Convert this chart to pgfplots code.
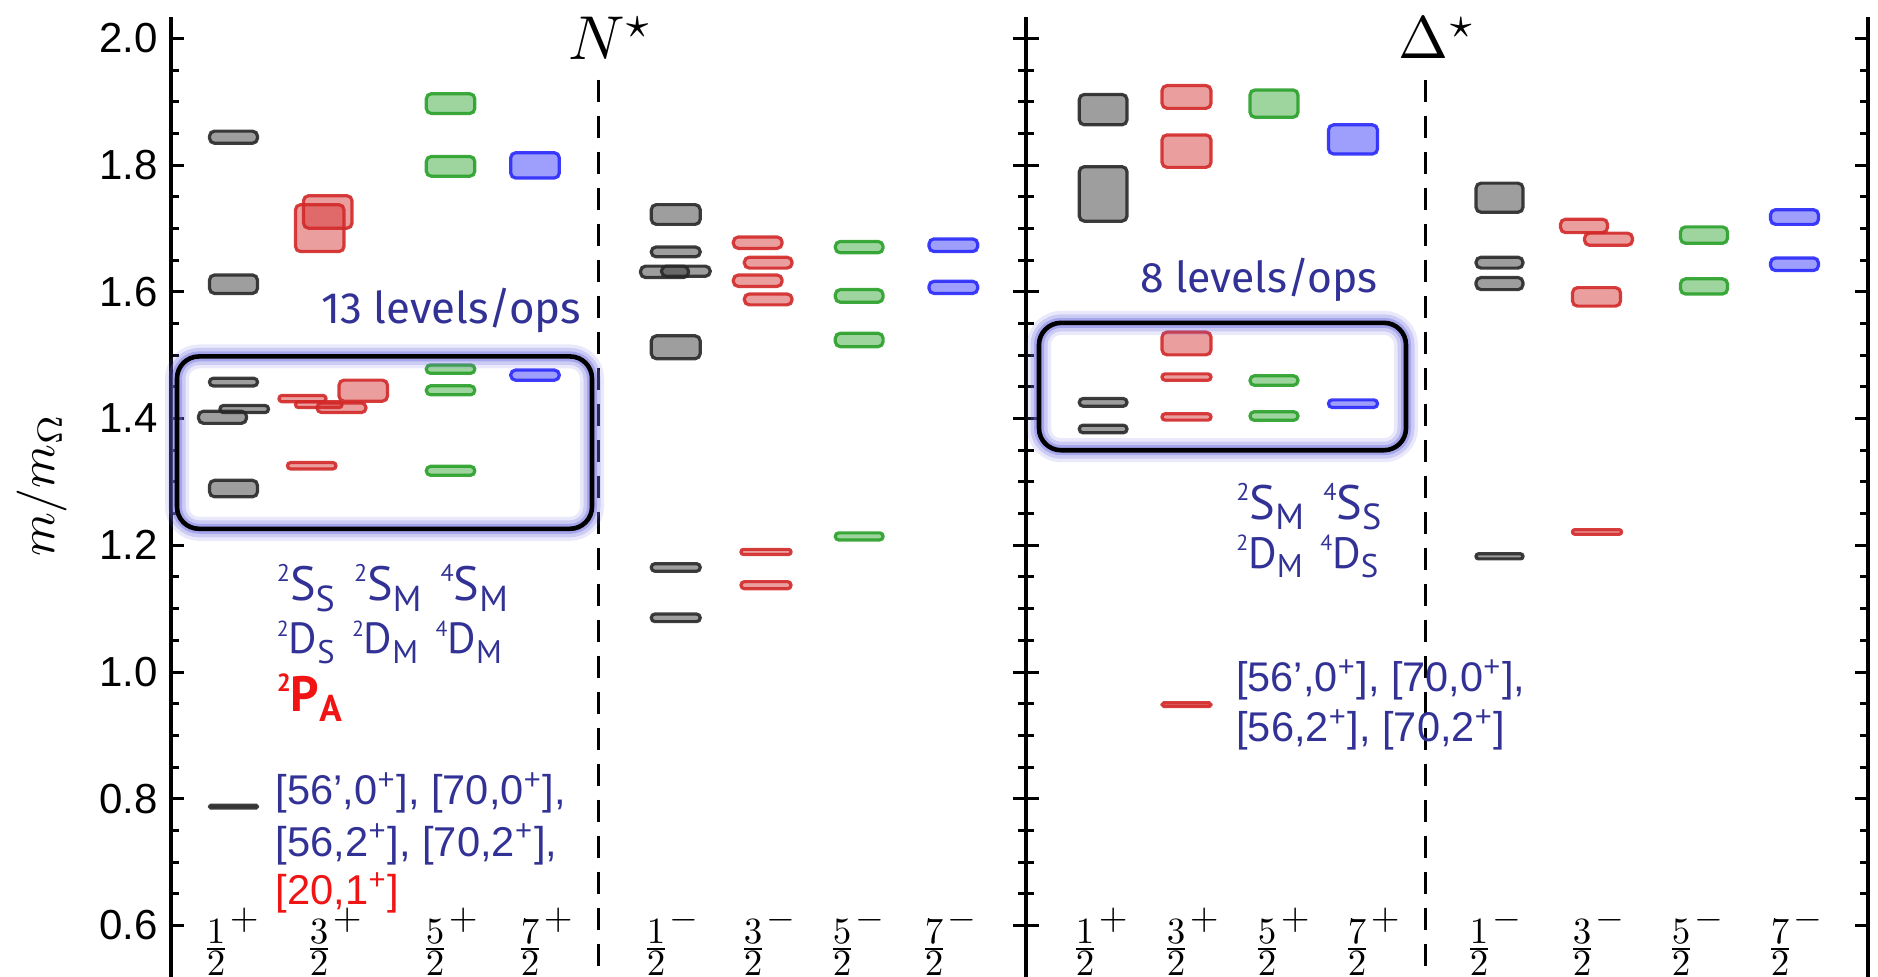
\documentclass[border=0pt]{standalone}
\usepackage[no-math]{fontspec}
\usepackage{graphicx}
\usepackage{pgfplots}
\pgfplotsset{compat=1.18}
\newfontfamily\arial{Liberation Sans}
\newfontfamily\specf{PT Sans}
\newfontfamily\lvlf{Fira Sans}
\definecolor{txtblue}{RGB}{50,50,150}
\definecolor{txtred}{RGB}{240,20,20}
\definecolor{gcol}{RGB}{40,40,40}
\definecolor{rcol}{RGB}{210,40,40}
\definecolor{grcol}{RGB}{40,160,40}
\definecolor{bcol}{RGB}{40,40,250}
\definecolor{glowc}{RGB}{110,110,225}

\pgfplotsset{
 bxs/.style={draw=#1, fill=#1, fill opacity=0.45, draw opacity=0.9, line width=1.6pt, mark=none},
 panel/.style={scale only axis, height=480pt, ymin=0.519, ymax=2.034,
   separate axis lines, x axis line style={draw=none}, xtick=\empty,
   y axis line style={line width=1.6pt},
   ytick={0.6,0.8,1.0,1.2,1.4,1.6,1.8,2.0}, minor y tick num=3,
   major tick length=6.5pt, minor tick length=4pt,
   tick style={line width=1.5pt, black}, tick align=inside,
   clip=false, anchor=south west},
}
% box: x-left, x-right, centre, half-height, colour
\newcommand\bx[5]{%
 \pgfmathsetmacro\ylo{#3-#4}%
 \pgfmathsetmacro\yhi{#3+#4}%
 \pgfmathsetmacro\rad{min(2.5,#4*300)}%
 \edef\temp{\noexpand\addplot[bxs=#5, rounded corners=\rad pt] coordinates {(#1,\ylo) (#2,\ylo) (#2,\yhi) (#1,\yhi)} -- cycle;}%
 \temp}
\newcommand\hl[4]{%
 \draw[glowc, opacity=0.15, line width=12pt, rounded corners=11pt] (axis cs:#1,#2) rectangle (axis cs:#3,#4);
 \draw[glowc, opacity=0.25, line width=8.5pt, rounded corners=11pt] (axis cs:#1,#2) rectangle (axis cs:#3,#4);
 \draw[glowc, opacity=0.4, line width=5pt, rounded corners=11pt] (axis cs:#1,#2) rectangle (axis cs:#3,#4);
 \draw[black, line width=2.3pt, rounded corners=11pt] (axis cs:#1,#2) rectangle (axis cs:#3,#4);}
\newcommand\fl[3]{\node at (axis cs:#1,0.575) {\scalebox{1.85}{$\frac{\textstyle #2}{\textstyle 2}^{\makebox[0pt][l]{$\textstyle #3$}}$}};}
\newcommand\spx[3]{\raisebox{9.4pt}{\fontsize{12}{12}\selectfont #1}#2\raisebox{-5.2pt}{\fontsize{18}{18}\selectfont #3}}
\newcommand\supp[1]{\textsuperscript{#1}}

\begin{document}
\begin{tikzpicture}
\path[use as bounding box] (0pt,0pt) rectangle (939pt,-488.5pt);
\node[rotate=90] at (21pt,-242.5pt) {\scalebox{2.5}{$m/m_{\Omega}$}};

% ---------------- N* panel
\begin{axis}[panel, at={(85.5pt,-488.4pt)}, width=427.5pt, xmin=171, xmax=1026,
  yticklabel style={font=\arial\fontsize{21}{23}\selectfont, xshift=-3pt},
  /pgf/number format/assume math mode=true,
  /pgf/number format/.cd, fixed, fixed zerofill, precision=1]
\addplot[black, line width=1.5pt, dash pattern=on 11pt off 7pt] coordinates {(598,1.935) (598,0.519)};
% 1/2+
\bx{209.5}{257.5}{1.844}{0.0096}{gcol}
\bx{209.5}{257.5}{1.612}{0.0146}{gcol}
\bx{209.5}{257.5}{1.4575}{0.006}{gcol}
\bx{198.5}{246.5}{1.402}{0.0096}{gcol}
\bx{220}{268.5}{1.415}{0.0056}{gcol}
\bx{209.5}{257.5}{1.2895}{0.013}{gcol}
\bx{209.5}{257.5}{0.7875}{0.0021}{gcol}
% 3/2+
\bx{295.5}{344}{1.7005}{0.037}{rcol}
\bx{303.5}{352}{1.726}{0.0256}{rcol}
\bx{279}{326}{1.4315}{0.005}{rcol}
\bx{295.5}{342}{1.422}{0.0046}{rcol}
\bx{317}{366}{1.417}{0.0076}{rcol}
\bx{339}{387.5}{1.444}{0.0166}{rcol}
\bx{287.5}{336}{1.3255}{0.005}{rcol}
% 5/2+
\bx{426.3}{474.8}{1.897}{0.0156}{grcol}
\bx{426.3}{474.8}{1.798}{0.0156}{grcol}
\bx{426.3}{474.8}{1.478}{0.0066}{grcol}
\bx{426.3}{474.8}{1.4445}{0.0071}{grcol}
\bx{426.3}{474.8}{1.3175}{0.0071}{grcol}
% 7/2+
\bx{510.7}{559.3}{1.7995}{0.020}{bcol}
\bx{510.7}{559.3}{1.4685}{0.008}{bcol}
% 1/2-
\bx{651.3}{700.2}{1.722}{0.0156}{gcol}
\bx{651.3}{700.2}{1.663}{0.0076}{gcol}
\bx{640.5}{688.5}{1.6315}{0.009}{gcol}
\bx{661.5}{710.2}{1.6325}{0.008}{gcol}
\bx{651.3}{700.2}{1.5125}{0.018}{gcol}
\bx{651.3}{700.2}{1.165}{0.006}{gcol}
\bx{651.3}{700.2}{1.0855}{0.006}{gcol}
% 3/2-
\bx{733.3}{782.1}{1.6775}{0.009}{rcol}
\bx{744.3}{792.1}{1.646}{0.0086}{rcol}
\bx{733.3}{782.1}{1.6175}{0.009}{rcol}
\bx{744.3}{792.1}{1.588}{0.0086}{rcol}
\bx{741}{791}{1.1895}{0.004}{rcol}
\bx{741}{791}{1.137}{0.0056}{rcol}
% 5/2-
\bx{835.3}{883.1}{1.6705}{0.009}{grcol}
\bx{835.3}{883.1}{1.5935}{0.010}{grcol}
\bx{835.3}{883.1}{1.524}{0.0106}{grcol}
\bx{835.3}{883.1}{1.214}{0.0056}{grcol}
% 7/2-
\bx{929}{977.7}{1.6735}{0.010}{bcol}
\bx{929}{977.7}{1.607}{0.0096}{bcol}

\hl{177}{1.498}{592}{1.226}
\node at (axis cs:598,2.0) {\scalebox{3.1}{$N^{\makebox[0pt][l]{$\scriptstyle\star$}}$}};
\node[anchor=west, inner sep=0pt, text=txtblue] at (axis cs:321,1.570) {\resizebox{130pt}{!}{\lvlf 13 levels/ops}};
\node[anchor=west, inner sep=0pt, text=txtblue] at (axis cs:276.5,1.1325) {\resizebox{115.5pt}{!}{\specf\fontsize{24}{24}\selectfont\spx{2}{S}{S}\hspace{0.4em}\spx{2}{S}{M}\hspace{0.4em}\spx{4}{S}{M}}};
\node[anchor=west, inner sep=0pt, text=txtblue] at (axis cs:276.5,1.0466) {\resizebox{112.5pt}{!}{\specf\fontsize{24}{24}\selectfont\spx{2}{D}{S}\hspace{0.4em}\spx{2}{D}{M}\hspace{0.4em}\spx{4}{D}{M}}};
\node[anchor=west, inner sep=0pt, text=txtred] at (axis cs:276.5,0.959) {\resizebox{32.5pt}{!}{\specf\bfseries\fontsize{24}{24}\selectfont\spx{2}{P}{A}}};
\node[anchor=west, inner sep=0pt, text=txtblue] at (axis cs:275.5,0.809) {\resizebox{145pt}{!}{\arial [56’,0\supp{+}], [70,0\supp{+}],}};
\node[anchor=west, inner sep=0pt, text=txtblue] at (axis cs:275.5,0.728) {\resizebox{140.7pt}{!}{\arial [56,2\supp{+}], [70,2\supp{+}],}};
\node[anchor=west, inner sep=0pt, text=txtred] at (axis cs:275.5,0.652) {\resizebox{61.7pt}{!}{\arial [20,1\supp{+}]}};
\fl{217}{1}{+}\fl{320}{3}{+}\fl{436}{5}{+}\fl{531}{7}{+}
\fl{657}{1}{-}\fl{754}{3}{-}\fl{843}{5}{-}\fl{935}{7}{-}
\end{axis}

% ---------------- Delta* panel
\begin{axis}[panel, at={(513pt,-488.4pt)}, width=421pt, xmin=1026, xmax=1868,
  yticklabels={}]
\addplot[black, line width=1.5pt, dash pattern=on 11pt off 7pt] coordinates {(1425,1.935) (1425,0.519)};
% 1/2+
\bx{1079.3}{1127}{1.8875}{0.024}{gcol}
\bx{1079.3}{1127}{1.7545}{0.043}{gcol}
\bx{1079.3}{1127}{1.4255}{0.006}{gcol}
\bx{1079.3}{1127}{1.3835}{0.006}{gcol}
% 3/2+
\bx{1162}{1211}{1.9075}{0.018}{rcol}
\bx{1162}{1211}{1.822}{0.0256}{rcol}
\bx{1162}{1211}{1.5185}{0.018}{rcol}
\bx{1162}{1211}{1.4655}{0.005}{rcol}
\bx{1162}{1211}{1.4025}{0.005}{rcol}
\bx{1162}{1211}{0.9485}{0.003}{rcol}
% 5/2+
\bx{1250}{1298}{1.897}{0.0216}{grcol}
\bx{1250}{1298}{1.460}{0.0076}{grcol}
\bx{1250}{1298}{1.404}{0.0066}{grcol}
% 7/2+
\bx{1328.5}{1377.5}{1.8405}{0.023}{bcol}
\bx{1328.5}{1377.5}{1.4235}{0.006}{bcol}
% 1/2-
\bx{1476}{1523}{1.7485}{0.023}{gcol}
\bx{1476}{1523}{1.646}{0.0086}{gcol}
\bx{1476}{1523}{1.613}{0.0096}{gcol}
\bx{1476}{1523}{1.1825}{0.004}{gcol}
% 3/2-
\bx{1560.5}{1607.5}{1.704}{0.0106}{rcol}
\bx{1584.5}{1632.5}{1.683}{0.0096}{rcol}
\bx{1572.5}{1620.5}{1.592}{0.0146}{rcol}
\bx{1572.5}{1621.5}{1.221}{0.0036}{rcol}
% 5/2-
\bx{1680.5}{1727.5}{1.6895}{0.013}{grcol}
\bx{1680.5}{1727.5}{1.6085}{0.012}{grcol}
% 7/2-
\bx{1770.5}{1818.5}{1.718}{0.0116}{bcol}
\bx{1770.5}{1818.5}{1.6435}{0.010}{bcol}

\hl{1039}{1.551}{1406}{1.350}
\node at (axis cs:1425,2.0) {\scalebox{3.0}{$\Delta^{\makebox[0pt][l]{$\scriptstyle\star$}}$}};
\node[anchor=west, inner sep=0pt, text=txtblue] at (axis cs:1140,1.619) {\resizebox{118.5pt}{!}{\lvlf 8 levels/ops}};
\node[anchor=west, inner sep=0pt, text=txtblue] at (axis cs:1236,1.261) {\resizebox{72.5pt}{!}{\specf\fontsize{24}{24}\selectfont\spx{2}{S}{M}\hspace{0.4em}\spx{4}{S}{S}}};
\node[anchor=west, inner sep=0pt, text=txtblue] at (axis cs:1236,1.182) {\resizebox{71pt}{!}{\specf\fontsize{24}{24}\selectfont\spx{2}{D}{M}\hspace{0.4em}\spx{4}{D}{S}}};
\node[anchor=west, inner sep=0pt, text=txtblue] at (axis cs:1236,0.987) {\resizebox{144.5pt}{!}{\arial [56’,0\supp{+}], [70,0\supp{+}],}};
\node[anchor=west, inner sep=0pt, text=txtblue] at (axis cs:1236,0.908) {\resizebox{134.5pt}{!}{\arial [56,2\supp{+}], [70,2\supp{+}]}};
\fl{1086}{1}{+}\fl{1177}{3}{+}\fl{1268}{5}{+}\fl{1358}{7}{+}
\fl{1480}{1}{-}\fl{1583}{3}{-}\fl{1682}{5}{-}\fl{1781}{7}{-}
\end{axis}
\end{tikzpicture}
\end{document}
